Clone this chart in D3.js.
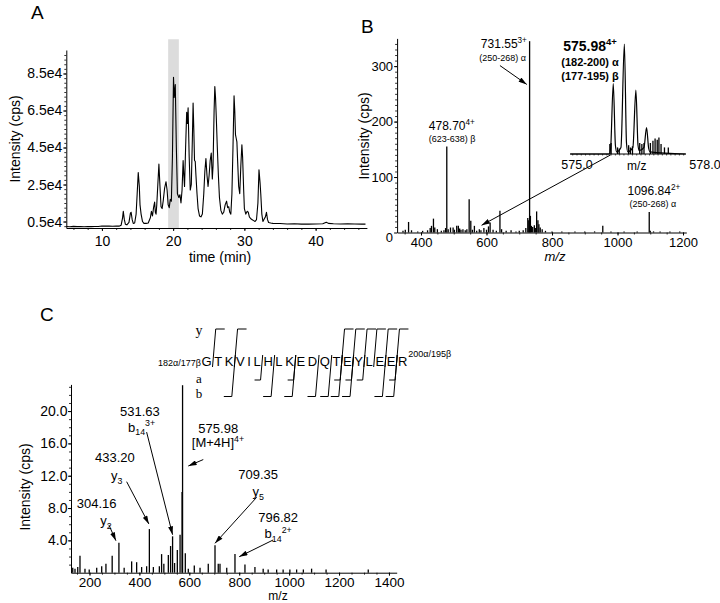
<!DOCTYPE html>
<html><head><meta charset="utf-8">
<script src="https://cdn.jsdelivr.net/npm/d3@7"></script>
<style>body{margin:0;background:#fff}svg{display:block}</style>
</head><body><svg id="c" width="720" height="603"></svg>
<script>
// ---------------- DATA ----------------
// Panel A: total ion chromatogram [time (min), intensity (cps)]
const ticTime = [5,5.5,6,6.5,7,7.5,8,8.5,9,9.5,10,10.5,11,11.5,12,12.4,12.7,12.9,13,13.15,13.3,13.5,13.8,14,14.1,14.25,14.4,14.6,14.8,14.95,15.1,15.25,15.35,15.5,15.7,15.9,16.2,16.5,16.8,16.95,17.1,17.25,17.4,17.5,17.6,17.7,17.85,18,18.15,18.3,18.45,18.6,18.8,19,19.15,19.3,19.45,19.6,19.75,19.9,20.05,20.15,20.3,20.45,20.6,20.8,20.95,21.1,21.25,21.4,21.5,21.6,21.75,21.9,22,22.1,22.25,22.4,22.55,22.7,22.8,22.9,23,23.1,23.2,23.35,23.5,23.7,23.9,24.1,24.3,24.45,24.6,24.75,24.9,25.05,25.2,25.35,25.5,25.6,25.75,25.85,25.95,26.05,26.2,26.35,26.5,26.7,26.9,27.1,27.3,27.5,27.65,27.8,27.95,28.1,28.25,28.4,28.55,28.65,28.75,28.85,28.95,29.05,29.2,29.35,29.5,29.65,29.75,29.9,30,30.2,30.4,30.55,30.7,30.9,31.1,31.3,31.5,31.7,31.9,32.05,32.2,32.3,32.45,32.6,32.8,32.95,33.1,33.25,33.4,33.7,34,35,36,37,38,39,40,41,41.5,41.8,42.5,43.5,44.5,45.5,46.5,47];
const ticInt = [2300,2200,2400,2250,2350,2200,2300,2250,2350,2300,2600,2500,2550,2450,2600,2500,3000,7000,10500,6000,3500,3200,4500,9500,10000,6000,4000,4200,9000,20000,31500,24000,14000,9000,5000,4000,4000,4200,7000,10500,8000,12500,15500,10000,9000,14000,25000,36000,24000,13000,12000,16000,23000,26500,22000,14000,12500,17000,16000,40000,83000,72000,79000,45000,20000,18000,19500,15000,22000,38000,30000,24000,45000,64000,58000,66500,40000,22000,25000,50000,69000,55000,38000,37500,30000,20000,12000,8000,7500,9000,20000,32000,39000,30000,24000,30000,38000,42000,28000,35000,65000,78000,72000,62000,45000,30000,18000,11000,9000,10000,14000,16000,12500,13000,10000,9000,20000,45000,73000,65000,52000,50000,48000,38000,24000,20000,35000,46500,40000,22000,12000,9000,10500,10000,7500,6500,6000,5500,5000,6000,15000,33000,26000,20000,9000,5000,6500,7500,10000,6000,4500,4200,4000,3900,3700,3800,3600,3600,3700,3800,4600,4000,3800,3700,3800,3700,3600,3600];
const ticYTicks = [5000,25000,45000,65000,85000];
const ticXTicks = [10,20,30,40];
const selectedWindow = [19.3, 20.8];

// Panel B: MS spectrum sticks [m/z, intensity]
const msMz  = [345,352,362,371,390,405,420,428,432,438,442,450,462,470,475,478.7,483,490,498,502,509,514,518,522,528,535,540,547,552,557,563,570,578,583,592,600,606,611,620,630,641,646,660,675,690,700,712,720,726,729,731.55,734,737,741,746,749,753,757,760,764,770,780,800,830,870,900,930,955,980,1020,1060,1096.84,1100,1110,1130,1160,1190];
const msInt = [3,5,19,4,2,3,4,8,12,25,9,6,3,4,8,155,6,9,9,5,12,12,7,5,6,4,6,60,21,5,12,3,6,4,8,5,11,18,5,3,39,6,3,4,2,3,4,8,26,22,345,30,12,10,13,8,38,22,15,9,6,3,2,2,2,2,2,12,2,2,2,37,3,2,2,2,2];
const msYTicks = [0,100,200,300];
const msXTicks = [400,600,800,1000,1200];

// Inset: isotope cluster profile [m/z, relative intensity]
const isoMz  = [574.84,575.76,575.79,575.85,575.90,575.93,576.03,576.11,576.16,576.19,576.31,576.38,576.43,576.46,576.57,576.63,576.68,576.71,577.55];
const isoInt = [0,0,6,64,8,2,6,100,10,2,6,58,8,3,6,24,5,2,0];
const isoStickMz  = [575.77,575.80,575.95,575.99,576.21,576.25,576.30,576.47,576.52,576.57,576.72,576.78,576.83,576.88,576.92,576.97,577.05,577.14];
const isoStickInt = [9,10,6,5,8,6,7,10,9,10,10,12,14,13,15,9,6,6];
const isoTicks = [575.0, 578.0];

// Panel C: MS/MS spectrum sticks [m/z, intensity]
const msmsMz  = [133,142,153,162,182,199,229,249,266,291,318,339,369,389,409,429,440,456,480,489,498,516,525,533,541,552,563,571,573,584,596,620,643,676,703,716,723,750,783,823,863,896,916,950,976,1003,1030,1057,1090,1148,1317];
const msmsInt = [0.6,0.5,0.7,2.1,0.5,0.4,0.6,0.8,1.1,2.1,3.7,0.6,1.4,1.3,0.7,0.8,5.4,0.7,0.8,2.3,1.1,2.2,3.3,4.5,1.2,2.8,4.7,10,23.2,2.4,0.5,0.9,0.6,1.1,3.4,1.1,1.1,0.6,2.3,1.0,0.7,0.5,0.4,0.4,0.4,0.4,0.4,0.4,0.5,0.4,0.4];
const msmsYTicks = [4,8,12,16,20];
const msmsXTicks = [200,400,600,800,1000,1200,1400];

// Peptide sequence and observed fragment cleavages (gap index i = after residue i)
const residues = ["G","T","K","V","I","L","H","L","K","E","D","Q","T","E","Y","L","E","E","R"];
const yIonGaps = [0,2,12,13,14,15,16,17];
const aIonGaps = [5,8,12,13,14,17];
const bIonGaps = [2,6,8,10,11,12,13,16,17];

// ---------------- DRAWING ----------------
const FONT = "'Liberation Sans', Arial, Helvetica, sans-serif";
const SERIF = "'Liberation Serif', 'Times New Roman', serif";
const svg = d3.select("#c");
svg.append("rect").attr("width",720).attr("height",603).attr("fill","#fff");
const defs = svg.append("defs");
defs.append("marker").attr("id","ah").attr("viewBox","0 0 10 6").attr("refX",10).attr("refY",3)
  .attr("markerWidth",9).attr("markerHeight",5).attr("markerUnits","userSpaceOnUse").attr("orient","auto")
  .append("path").attr("d","M0,0 L10,3 L0,6 Z").attr("fill","#000");

function styleAxis(g, fs){
  g.attr("font-family",FONT).attr("font-size",fs);
  g.select("path.domain").attr("stroke","#000").attr("stroke-width",1);
  g.selectAll(".tick line").attr("stroke","#000");
  g.selectAll(".tick text").attr("fill","#000");
}
function minor(g){ g.select("path.domain").remove(); g.selectAll(".tick line").attr("stroke","#000").attr("stroke-width",0.8); }

function rich(g, x, y, parts, fs, opts={}){
  const t = g.append("text").attr("x",x).attr("y",y).attr("font-family",opts.family||FONT)
    .attr("font-size",fs).attr("text-anchor",opts.anchor||"middle").attr("font-weight",opts.weight||"normal").attr("fill","#000");
  let shift = 0;
  parts.forEach(p=>{
    let target = 0, size = fs;
    if(p.sup){ target = -fs*0.42; size = fs*0.68; }
    if(p.sub){ target = fs*0.28; size = fs*0.68; }
    t.append("tspan").attr("dy", target-shift).attr("font-size",size).text(p.t);
    shift = target;
  });
  return t;
}
function arrow(g, x1,y1,x2,y2){
  g.append("line").attr("x1",x1).attr("y1",y1).attr("x2",x2).attr("y2",y2)
   .attr("stroke","#000").attr("stroke-width",1).attr("marker-end","url(#ah)");
}

// ===== Panel A =====
const gA = svg.append("g");
const xA = d3.scaleLinear().domain([5,47.2]).range([66.3,366.9]);
const yA = d3.scaleLinear().domain([1500,97700]).range([228,50]);
gA.append("rect").attr("x",xA(selectedWindow[0])).attr("width",xA(selectedWindow[1])-xA(selectedWindow[0]))
  .attr("y",yA(103500)).attr("height",yA(1500)-yA(103500)).attr("fill","#dcdcdc");
const axA = gA.append("g").attr("transform",`translate(0,${yA(1500)})`)
  .call(d3.axisBottom(xA).tickValues(ticXTicks).tickSize(3).tickSizeOuter(0).tickPadding(5));
styleAxis(axA,14);
gA.append("g").attr("transform",`translate(0,${yA(1500)})`).call(d3.axisBottom(xA).tickValues(d3.range(6,47,2)).tickSize(2).tickFormat("")).call(minor);
const ayA = gA.append("g").attr("transform",`translate(${xA(5)},0)`)
  .call(d3.axisLeft(yA).tickValues(ticYTicks).tickFormat(d=>(d/1e4).toFixed(1)+"e4").tickSize(3).tickSizeOuter(0).tickPadding(1));
styleAxis(ayA,14);
gA.append("g").attr("transform",`translate(${xA(5)},0)`).call(d3.axisLeft(yA).tickValues(d3.range(2500,97000,2500)).tickSize(2).tickFormat("")).call(minor);
const ticData = ticTime.map((t,i)=>[t,ticInt[i]]);
gA.append("path").datum(ticData).attr("fill","none").attr("stroke","#000").attr("stroke-width",1.1)
  .attr("stroke-linejoin","round")
  .attr("d", d3.line().x(d=>xA(d[0])).y(d=>yA(d[1])));
gA.append("text").attr("x",220).attr("y",262).attr("text-anchor","middle").attr("font-family",FONT).attr("font-size",14).text("time (min)");
gA.append("text").attr("transform","translate(20,139) rotate(-90)").attr("text-anchor","middle").attr("font-family",FONT).attr("font-size",14).text("Intensity (cps)");
gA.append("text").attr("x",31).attr("y",19).attr("font-family",FONT).attr("font-size",19).text("A");

// ===== Panel B =====
const gB = svg.append("g");
const xB = d3.scaleLinear().domain([327,1210]).range([397.1,686.3]);
const yB = d3.scaleLinear().domain([0,350]).range([232.5,38.4]);
const axB = gB.append("g").attr("transform",`translate(0,${yB(0)})`)
  .call(d3.axisBottom(xB).tickValues(msXTicks).tickFormat(d3.format("d")).tickSize(3).tickSizeOuter(0).tickPadding(2));
styleAxis(axB,13);
gB.append("g").attr("transform",`translate(0,${yB(0)})`).call(d3.axisBottom(xB).tickValues(d3.range(350,1210,50)).tickSize(2).tickFormat("")).call(minor);
const ayB = gB.append("g").attr("transform",`translate(${xB(327)},0)`)
  .call(d3.axisLeft(yB).tickValues(msYTicks).tickFormat(d3.format("d")).tickSize(3).tickSizeOuter(0).tickPadding(1));
styleAxis(ayB,13);
ayB.selectAll(".tick text").filter(d=>d===0).attr("dy","0.7em");
gB.append("g").attr("transform",`translate(${xB(327)},0)`).call(d3.axisLeft(yB).tickValues(d3.range(10,350,10)).tickSize(2).tickFormat("")).call(minor);
gB.append("g").selectAll("line").data(msMz.map((m,i)=>[m,msInt[i]])).join("line")
  .attr("x1",d=>xB(d[0])).attr("x2",d=>xB(d[0])).attr("y1",yB(0)).attr("y2",d=>yB(d[1]))
  .attr("stroke","#000").attr("stroke-width",1.3);
gB.append("text").attr("transform","translate(369,136) rotate(-90)").attr("text-anchor","middle").attr("font-family",FONT).attr("font-size",14).text("Intensity (cps)");
gB.append("text").attr("x",555).attr("y",261).attr("text-anchor","middle").attr("font-family",FONT).attr("font-style","italic").attr("font-size",13).text("m/z");
gB.append("text").attr("x",361).attr("y",33).attr("font-family",FONT).attr("font-size",19).text("B");
rich(gB, xB(653), yB(333), [{t:"731.55"},{t:"3+",sup:true}], 12);
rich(gB, xB(649), yB(310), [{t:"(250-268) α"}], 9);
arrow(gB, xB(641), yB(301), xB(723), yB(267));
rich(gB, xB(494), yB(184), [{t:"478.70"},{t:"4+",sup:true}], 12);
rich(gB, xB(495), yB(164), [{t:"(623-638) β"}], 9);
rich(gB, xB(1111), yB(67), [{t:"1096.84"},{t:"2+",sup:true}], 12);
rich(gB, xB(1108), yB(46), [{t:"(250-268) α"}], 9);
arrow(gB, xB(979), yB(140), xB(585), yB(13));
// inset
const xI = d3.scaleLinear().domain([575,578]).range([577,705]);
const yI = d3.scaleLinear().domain([0,100]).range([154,44]);
gB.append("line").attr("x1",xI(574.84)).attr("x2",xI(577.55)).attr("y1",yI(0)).attr("y2",yI(0)).attr("stroke","#000");
gB.append("g").selectAll("line").data(d3.range(574.9,577.55,0.1)).join("line")
  .attr("x1",d=>xI(d)).attr("x2",d=>xI(d)).attr("y1",yI(0)).attr("y2",yI(0)+1.5).attr("stroke","#000").attr("stroke-width",0.7);
gB.append("path").datum(isoMz.map((m,i)=>[m,isoInt[i]])).attr("fill","none").attr("stroke","#000").attr("stroke-width",1.2)
  .attr("d", d3.line().x(d=>xI(d[0])).y(d=>yI(d[1])).curve(d3.curveMonotoneX));
gB.append("g").selectAll("line").data(isoStickMz.map((m,i)=>[m,isoStickInt[i]])).join("line")
  .attr("x1",d=>xI(d[0])).attr("x2",d=>xI(d[0])).attr("y1",yI(0)).attr("y2",d=>yI(d[1])).attr("stroke","#000").attr("stroke-width",1.3);
isoTicks.forEach(v=>gB.append("text").attr("x",xI(v)).attr("y",yI(0)+15).attr("text-anchor","middle").attr("font-family",FONT).attr("font-size",12.5).text(v.toFixed(1)));
gB.append("text").attr("x",xI(576.4)).attr("y",yI(0)+16).attr("text-anchor","middle").attr("font-family",FONT).attr("font-size",12).text("m/z");
rich(gB, xB(916), yB(327), [{t:"575.98"},{t:"4+",sup:true}], 14, {weight:"bold"});
rich(gB, xB(916), yB(300), [{t:"(182-200) α"}], 11, {weight:"bold"});
rich(gB, xB(916), yB(275), [{t:"(177-195) β"}], 11, {weight:"bold"});

// ===== Panel C =====
const gC = svg.append("g");
const xC = d3.scaleLinear().domain([126,1431]).range([71,396.7]);
const yC = d3.scaleLinear().domain([0,23.3]).range([572.7,384.4]);
const axC = gC.append("g").attr("transform",`translate(0,${yC(0)})`)
  .call(d3.axisBottom(xC).tickValues(msmsXTicks).tickFormat(d3.format("d")).tickSize(3).tickSizeOuter(0).tickPadding(2));
styleAxis(axC,13.5);
gC.append("g").attr("transform",`translate(0,${yC(0)})`).call(d3.axisBottom(xC).tickValues(d3.range(150,1431,50)).tickSize(2).tickFormat("")).call(minor);
const ayC = gC.append("g").attr("transform",`translate(${xC(126)},0)`)
  .call(d3.axisLeft(yC).tickValues(msmsYTicks).tickFormat(d3.format(".1f")).tickSize(3).tickSizeOuter(0).tickPadding(0.5));
styleAxis(ayC,14);
gC.append("g").attr("transform",`translate(${xC(126)},0)`).call(d3.axisLeft(yC).tickValues(d3.range(1,23.3,1)).tickSize(2).tickFormat("")).call(minor);
gC.append("g").selectAll("line").data(msmsMz.map((m,i)=>[m,msmsInt[i]])).join("line")
  .attr("x1",d=>xC(d[0])).attr("x2",d=>xC(d[0])).attr("y1",yC(0)).attr("y2",d=>yC(d[1]))
  .attr("stroke","#000").attr("stroke-width",1.3);
gC.append("text").attr("transform","translate(30,487) rotate(-90)").attr("text-anchor","middle").attr("font-family",FONT).attr("font-size",14).text("Intensity (cps)");
gC.append("text").attr("x",278).attr("y",600).attr("text-anchor","middle").attr("font-family",FONT).attr("font-size",12).text("m/z");
gC.append("text").attr("x",40).attr("y",321).attr("font-family",FONT).attr("font-size",19).text("C");
const fs = 13;
function lab(m, i, parts){ rich(gC, xC(m), yC(i)+4.5, parts, fs); }
lab(402,19.9,[{t:"531.63"}]); lab(409,18.0,[{t:"b"},{t:"14",sub:true},{t:"3+",sup:true}]);
arrow(gC, xC(429), yC(17.4), xC(533), yC(4.7));
lab(716,17.9,[{t:"575.98"}]); lab(715,16.05,[{t:"[M+4H]"},{t:"4+",sup:true}]);
arrow(gC, xC(656), yC(14.0), xC(596), yC(13.2));
lab(302,14.2,[{t:"433.20"}]); lab(309,12.0,[{t:"y"},{t:"3",sub:true}]);
arrow(gC, xC(349), yC(11.26), xC(438), yC(6.03));
lab(229,8.6,[{t:"304.16"}]); lab(266,6.4,[{t:"y"},{t:"2",sub:true}]);
arrow(gC, xC(278), yC(5.9), xC(306), yC(3.96));
lab(876,12.1,[{t:"709.35"}]); lab(876,10.0,[{t:"y"},{t:"5",sub:true}]);
arrow(gC, xC(870), yC(9.33), xC(703), yC(3.64));
lab(956,6.86,[{t:"796.82"}]); lab(956,4.79,[{t:"b"},{t:"14",sub:true},{t:"2+",sup:true}]);
arrow(gC, xC(936), yC(4.05), xC(800), yC(1.98));

// sequence with fragment brackets
const gS = gC.append("g");
const seqBase = 366, seqFs = 13, gap = 2.6;
let cx = 201.5; const lx = [];
residues.forEach(r=>{
  const t = gS.append("text").attr("x",cx).attr("y",seqBase).attr("font-family",FONT).attr("font-size",seqFs).text(r);
  const w = t.node().getComputedTextLength();
  lx.push([cx, cx+w]); cx += w + gap;
});
gS.append("text").attr("x",lx[0][0]-0.5).attr("y",seqBase).attr("text-anchor","end").attr("font-family",FONT).attr("font-size",9).text("182α/177β");
gS.append("text").attr("x",lx[lx.length-1][1]+1).attr("y",seqBase-9).attr("font-family",FONT).attr("font-size",9).text("200α/195β");
gS.append("text").attr("x",199).attr("y",335).attr("text-anchor","middle").attr("font-family",SERIF).attr("font-size",14).text("y");
gS.append("text").attr("x",199).attr("y",382.5).attr("text-anchor","middle").attr("font-family",SERIF).attr("font-size",13).text("a");
gS.append("text").attr("x",199).attr("y",398).attr("text-anchor","middle").attr("font-family",SERIF).attr("font-size",13).text("b");
const gx = i => (lx[i][1] + lx[i+1][0])/2;
const sl = 0.085, yTop = 329, yMid = 362, yAr = 380, yBr = 396.5;
const xs = (g, yy) => g + sl*(yMid - yy);
const br = gS.append("g").attr("fill","none").attr("stroke","#000").attr("stroke-width",1);
yIonGaps.forEach(i=>{ const g=gx(i); br.append("path").attr("d",`M${xs(g,367)},367 L${xs(g,yTop)},${yTop} h9`); });
bIonGaps.forEach(i=>{ const g=gx(i); br.append("path").attr("d",`M${xs(g,355)},355 L${xs(g,yBr)},${yBr} h-8`); });
aIonGaps.forEach(i=>{ const g=gx(i); br.append("path").attr("d",`M${xs(g,355)},355 L${xs(g,yAr)},${yAr} h-6`); });
</script></body></html>
